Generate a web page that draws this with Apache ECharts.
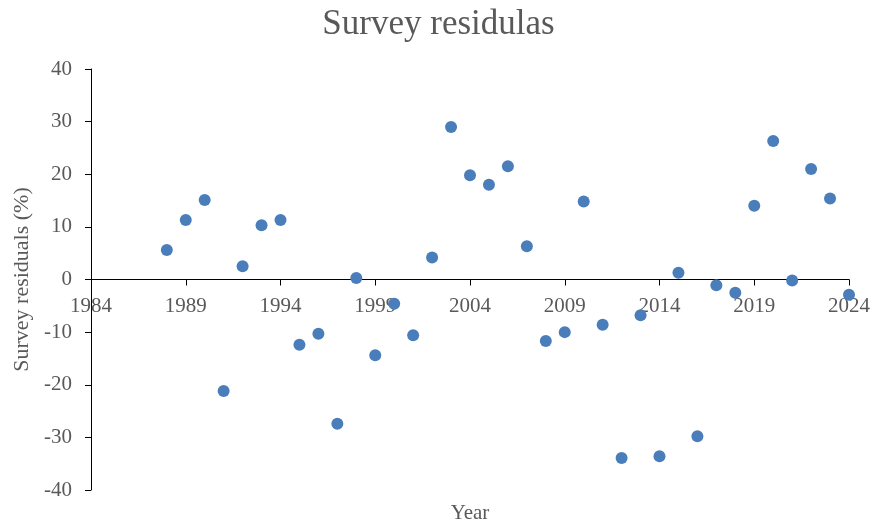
<!DOCTYPE html>
<html>
<head>
<meta charset="utf-8">
<style>
  html, body { margin: 0; padding: 0; background: #fff; }
  #chart { width: 877px; height: 526px; }
</style>
<script src="https://cdn.jsdelivr.net/npm/echarts@6/dist/echarts.min.js"></script>
</head>
<body>
<div id="chart"></div>
<script>
// survey years and residuals (%)
var years = [1988, 1989, 1990, 1991, 1992, 1993, 1994, 1995, 1996, 1997,
  1998, 1999, 2000, 2001, 2002, 2003, 2004, 2005, 2006, 2007,
  2008, 2009, 2010, 2011, 2012, 2013, 2014, 2015, 2016, 2017,
  2018, 2019, 2020, 2021, 2022, 2023, 2024]
var residuals = [5.6, 11.3, 15.1, -21.2, 2.5, 10.3, 11.3, -12.4, -10.3, -27.4,
  0.3, -14.4, -4.6, -10.6, 4.2, 29.0, 19.8, 18.0, 21.5, 6.3,
  -11.7, -10.0, 14.8, -8.6, -33.9, -6.8, -33.6, 1.3, -29.8, -1.1,
  -2.5, 14.0, 26.3, -0.2, 21.0, 15.4, -2.9]

var font = '"Liberation Serif", "Times New Roman", serif'
var grey = '#595959'

var myChart = echarts.init(document.getElementById('chart'))

var option = {
  animation: false,
  title: {
    text: 'Survey residulas',
    left: 'center',
    top: 2,
    textStyle: { fontFamily: font, fontSize: 35, fontWeight: 'normal', color: grey }
  },
  grid: { left: 91, right: 28, top: 69, bottom: 36, containLabel: false, outerBoundsMode: 'none' },
  xAxis: {
    type: 'value',
    min: 1984,
    max: 2024,
    interval: 5,
    // axis drawn at y = 0 (half way up the plot)
    offset: -210.5,
    name: 'Year',
    nameLocation: 'middle',
    nameGap: 223,
    nameMoveOverlap: false,
    nameTextStyle: { fontFamily: font, fontSize: 21, color: grey },
    axisLine: { onZero: false, lineStyle: { color: '#000', width: 1 } },
    axisTick: { show: true, length: 6, lineStyle: { color: '#000' } },
    axisLabel: { fontFamily: font, fontSize: 21, color: grey, margin: 16, formatter: function (v) { return String(v) } },
    splitLine: { show: false }
  },
  yAxis: {
    type: 'value',
    min: -40,
    max: 40,
    interval: 10,
    name: 'Survey residuals (%)',
    nameLocation: 'middle',
    nameGap: 57,
    nameTextStyle: { fontFamily: font, fontSize: 22, color: grey },
    axisLine: { show: true, lineStyle: { color: '#000', width: 1 } },
    axisTick: { show: true, length: 6, lineStyle: { color: '#000' } },
    axisLabel: { fontFamily: font, fontSize: 21, color: grey, margin: 19 },
    splitLine: { show: false }
  },
  series: [
    {
      type: 'scatter',
      symbol: 'circle',
      symbolSize: 12,
      itemStyle: { color: '#4A7EBB', opacity: 1 },
      data: years.map(function (y, i) { return [y, residuals[i]] })
    }
  ]
}

myChart.setOption(option)
</script>
</body>
</html>
